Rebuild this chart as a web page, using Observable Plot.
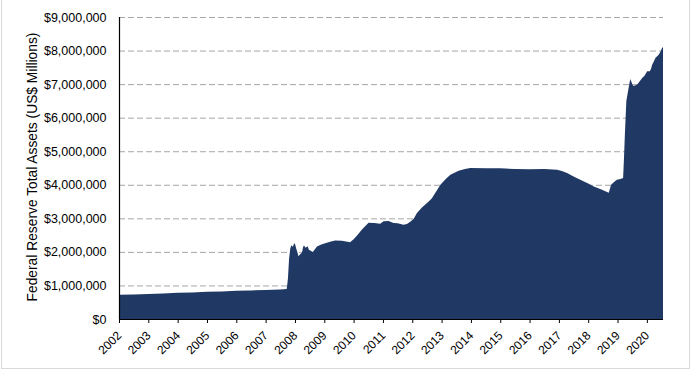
<!DOCTYPE html>
<html>
<head>
<meta charset="utf-8">
<script src="https://cdn.jsdelivr.net/npm/d3@7"></script>
<script src="https://cdn.jsdelivr.net/npm/@observablehq/plot@0.6"></script>
<style>
  html, body { margin: 0; padding: 0; background: #fff; }
  #frame { position: absolute; left: 1px; top: 0px; width: 689px; height: 369px; border: 1px solid #d9d9d9; border-top: none; box-sizing: border-box; }
  #chart { position: absolute; left: 0; top: 0; }
</style>
</head>
<body>
<div id="frame"></div>
<div id="chart"></div>
<script>
// Position along axis in "label years" (tick labelled 2002 = 2002.0)
const years = [
  2002.0, 2002.5, 2003.0, 2003.5, 2004.0, 2004.5, 2005.0, 2005.5, 2006.0, 2006.5,
  2007.0, 2007.5, 2007.72, 2007.76, 2007.80, 2007.84, 2007.88, 2007.93, 2007.97, 2008.0,
  2008.04, 2008.08, 2008.12, 2008.17, 2008.24, 2008.28, 2008.31, 2008.36, 2008.43, 2008.48,
  2008.52, 2008.61, 2008.68, 2008.75, 2008.9, 2009.03, 2009.2, 2009.37, 2009.6, 2009.88,
  2010.0, 2010.11, 2010.3, 2010.51, 2010.7, 2010.91, 2011.02, 2011.19, 2011.36, 2011.5,
  2011.7, 2011.82, 2011.93, 2012.05, 2012.16, 2012.33, 2012.56, 2012.67, 2012.96, 2013.15,
  2013.3, 2013.58, 2013.8, 2013.98, 2014.5, 2015.0, 2015.5, 2016.0, 2016.5, 2016.94,
  2017.1, 2017.28, 2017.5, 2017.73, 2018.0, 2018.19, 2018.45, 2018.7, 2018.78, 2018.9,
  2018.98, 2019.1, 2019.19, 2019.22, 2019.25, 2019.3, 2019.36, 2019.41, 2019.44, 2019.48,
  2019.53, 2019.6, 2019.67, 2019.75, 2019.84, 2019.92, 2020.01, 2020.1, 2020.14, 2020.18,
  2020.24, 2020.29, 2020.35, 2020.41, 2020.47, 2020.52, 2020.55
];
// Total assets, US$ millions
const assets = [
  720000, 730000, 745000, 760000, 780000, 790000, 810000, 820000, 840000, 850000,
  865000, 880000, 895000, 1200000, 1800000, 2100000, 2200000, 2150000, 2250000, 2240000,
  2110000, 2000000, 1870000, 1920000, 1980000, 2150000, 2190000, 2120000, 2170000, 2060000,
  2040000, 2000000, 2080000, 2160000, 2220000, 2260000, 2300000, 2340000, 2330000, 2290000,
  2380000, 2480000, 2680000, 2870000, 2860000, 2840000, 2910000, 2920000, 2860000, 2850000,
  2810000, 2830000, 2900000, 2990000, 3160000, 3320000, 3500000, 3600000, 4000000, 4180000,
  4300000, 4420000, 4470000, 4500000, 4490000, 4490000, 4470000, 4460000, 4470000, 4450000,
  4410000, 4350000, 4250000, 4150000, 4040000, 3950000, 3860000, 3760000, 4000000, 4100000,
  4150000, 4170000, 4200000, 4800000, 5500000, 6500000, 6800000, 7050000, 7150000, 7050000,
  6950000, 6960000, 6990000, 7080000, 7180000, 7250000, 7380000, 7380000, 7450000, 7580000,
  7680000, 7780000, 7830000, 7880000, 7980000, 8080000, 8100000
];
const yearTicks = [2002, 2003, 2004, 2005, 2006, 2007, 2008, 2009, 2010, 2011,
  2012, 2013, 2014, 2015, 2016, 2017, 2018, 2019, 2020];
const yTicks = [0, 1000000, 2000000, 3000000, 4000000, 5000000, 6000000, 7000000, 8000000, 9000000];
const yTitle = "Federal Reserve Total Assets (US$ Millions)";

const data = years.map((x, i) => ({x, y: assets[i]}));
const fmt = d3.format(",");
const FONT = "Liberation Sans, Arial, sans-serif";

const chart = Plot.plot({
  width: 692,
  height: 370,
  marginLeft: 119,
  marginRight: 29,
  marginTop: 17,
  marginBottom: 51,
  style: {fontFamily: FONT, color: "#000", background: "transparent"},
  x: {domain: [2002, 2020.55], axis: null},
  y: {domain: [0, 9000000], axis: null},
  marks: [
    Plot.gridY(yTicks.filter(d => d > 0), {stroke: "#a6a6a6", strokeOpacity: 1, strokeDasharray: "6,3", strokeWidth: 1}),
    Plot.areaY(data, {x: "x", y: "y", fill: "#203864"}),
    // y tick labels
    Plot.text(yTicks, {y: d => d, frameAnchor: "left", dx: -13, textAnchor: "end",
      text: d => "$" + fmt(d), fontSize: 12.5, fill: "#000"}),
    // x tick marks (4px below axis)
    Plot.ruleX(yearTicks, {x: d => d, y1: 0, y2: 0, insetBottom: -4, stroke: "#000"}),
    // x tick labels
    Plot.text(yearTicks, {x: d => d, frameAnchor: "bottom", dy: 14, rotate: -45, textAnchor: "end",
      lineAnchor: "middle", text: d => String(d), fontSize: 12, fill: "#000"}),
    // y axis title
    Plot.text([yTitle], {frameAnchor: "left", dx: -87, dy: -1.5, rotate: -90, textAnchor: "middle",
      lineAnchor: "middle", fontSize: 13.8, fill: "#000"}),
    Plot.ruleX([2002], {stroke: "#000", strokeWidth: 1.2}),
    Plot.ruleY([0], {stroke: "#000", strokeWidth: 1.2})
  ]
});
document.getElementById("chart").appendChild(chart);
</script>
</body>
</html>
